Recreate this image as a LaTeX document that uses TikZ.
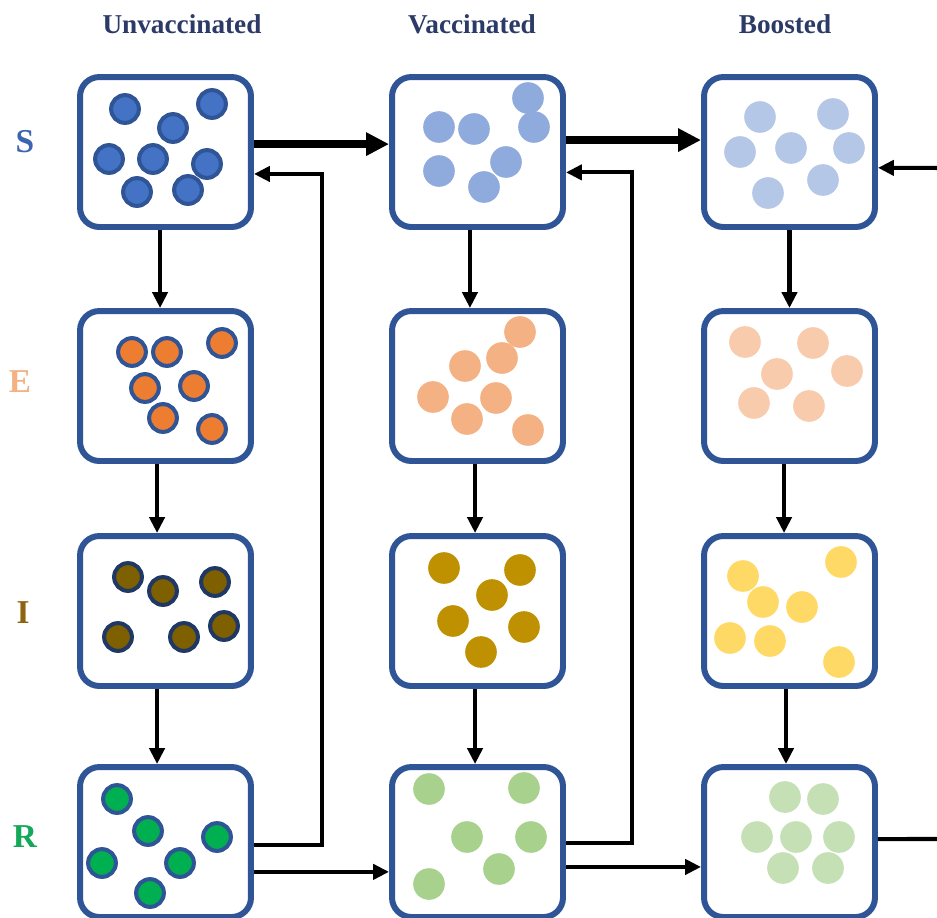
\documentclass[tikz,border=0pt]{standalone}
\usepackage{fontspec}
\setmainfont{Liberation Serif}
\usepackage{xcolor}
\usetikzlibrary{arrows.meta}

\definecolor{boxblue}{HTML}{2F5597}
\definecolor{hdrblue}{HTML}{2B3A67}
\definecolor{darknavy}{HTML}{1F3864}
\definecolor{slab}{HTML}{3C64B1}
\definecolor{elab}{HTML}{F4B183}
\definecolor{ilab}{HTML}{8E6410}
\definecolor{rlab}{HTML}{14A85A}
% dot colours: unvaccinated, vaccinated, boosted
\definecolor{su}{HTML}{4472C4}
\definecolor{sv}{HTML}{8FAADC}
\definecolor{sb}{HTML}{B4C7E7}
\definecolor{eu}{HTML}{ED7D31}
\definecolor{ev}{HTML}{F4B183}
\definecolor{eb}{HTML}{F8CBAD}
\definecolor{iu}{HTML}{7F6000}
\definecolor{iv}{HTML}{BF9000}
\definecolor{ib}{HTML}{FFD966}
\definecolor{ru}{HTML}{00B050}
\definecolor{rv}{HTML}{A9D18E}
\definecolor{rb}{HTML}{C5E0B4}

\begin{document}
\begin{tikzpicture}[x=0.02cm,y=-0.02cm,
    box/.style={draw=boxblue,fill=white,line width=3.4pt,rounded corners=11pt,minimum width=3.42cm,minimum height=3cm},
    rimdot/.style={line width=2.3pt},
    arr/.style={line width=2.3pt,-{Triangle[length=9pt,width=8.5pt]}},
    bigarr/.style={line width=4.5pt,-{Triangle[length=13pt,width=12.5pt]}},
    head/.style={font=\bfseries\fontsize{15.5}{18}\selectfont,text=hdrblue,anchor=base},
    comp/.style={font=\bfseries\fontsize{19}{22}\selectfont,anchor=base}]
    \useasboundingbox (0,0) rectangle (937,917);
    \clip (0,0) rectangle (937,917);
    % headers
    \node[head] (hu) at (182,33) {Unvaccinated};
    \node[head] (hv) at (472,33) {Vaccinated};
    \node[head] (hb) at (785,33) {Boosted};
    % compartments
    \node[comp,text=slab] (ls) at (25,152) {S};
    \node[comp,text=elab] (le) at (20,392) {E};
    \node[comp,text=ilab] (li) at (23,623) {I};
    \node[comp,text=rlab] (lr) at (25,847) {R};
    % boxes
    \node[box] (Su) at (165.5,152) {};
    \node[box] (Eu) at (165.5,386) {};
    \node[box] (Iu) at (165.5,611) {};
    \node[box] (Ru) at (165.5,842) {};
    \node[box] (Sv) at (477.5,152) {};
    \node[box] (Ev) at (477.5,386) {};
    \node[box] (Iv) at (477.5,611) {};
    \node[box] (Rv) at (477.5,842) {};
    \node[box] (Sb) at (789.5,152) {};
    \node[box] (Eb) at (789.5,386) {};
    \node[box] (Ib) at (789.5,611) {};
    \node[box] (Rb) at (789.5,842) {};
    % people
    \foreach \x/\y in {125/109,212/104,173/128,109/159,153/159,207/164,137/192,188/190}
        \filldraw[rimdot,draw=boxblue,fill=su] (\x,\y) circle (7.9pt);
    \foreach \x/\y in {439/127,474/129,528/98,534/127,439/171,506/162,484/187}
        \fill[sv] (\x,\y) circle (9pt);
    \foreach \x/\y in {760/117,833/114,740/152,791/148,849/148,768/193,823/180}
        \fill[sb] (\x,\y) circle (9pt);
    \foreach \x/\y in {132/352,167/352,222/343,145/388,194/386,163/418,212/429}
        \filldraw[rimdot,draw=boxblue,fill=eu] (\x,\y) circle (7.9pt);
    \foreach \x/\y in {520/332,502/358,465/366,433/397,496/398,467/419,528/430}
        \fill[ev] (\x,\y) circle (9pt);
    \foreach \x/\y in {745/342,813/343,777/374,847/371,754/403,809/406}
        \fill[eb] (\x,\y) circle (9pt);
    \foreach \x/\y in {128/577,163/591,215/582,118/637,184/637,224/626}
        \filldraw[rimdot,draw=darknavy,fill=iu] (\x,\y) circle (7.9pt);
    \foreach \x/\y in {444/568,520/570,492/595,453/621,524/627,481/652}
        \fill[iv] (\x,\y) circle (9pt);
    \foreach \x/\y in {841/562,743/576,763/602,802/607,730/638,770/641,839/662}
        \fill[ib] (\x,\y) circle (9pt);
    \foreach \x/\y in {117/799,148/831,217/837,102/863,180/863,150/893}
        \filldraw[rimdot,draw=boxblue,fill=ru] (\x,\y) circle (7.9pt);
    \foreach \x/\y in {429/789,524/788,467/837,531/837,499/869,429/884}
        \fill[rv] (\x,\y) circle (9pt);
    \foreach \x/\y in {785/797,823/799,757/837,796/837,839/837,783/868,828/868}
        \fill[rb] (\x,\y) circle (9pt);
    % vaccination
    \draw[bigarr] ([yshift=4.5pt]Su.east) -- ([yshift=4.5pt]Sv.west);
    \draw[bigarr] ([yshift=6.8pt]Sv.east) -- ([yshift=6.8pt]Sb.west);
    % disease progression
    \draw[arr] ([xshift=-3.1pt]Su.south) -- ([xshift=-3.1pt]Eu.north);
    \draw[arr] ([xshift=-4.8pt]Eu.south) -- ([xshift=-4.8pt]Iu.north);
    \draw[arr] ([xshift=-4.8pt]Iu.south) -- ([xshift=-4.8pt]Ru.north);
    \draw[arr] ([xshift=-4.3pt]Sv.south) -- ([xshift=-4.3pt]Ev.north);
    \draw[arr] ([xshift=-1.4pt]Ev.south) -- ([xshift=-1.4pt]Iv.north);
    \draw[arr] ([xshift=-1.4pt]Iv.south) -- ([xshift=-1.4pt]Rv.north);
    \draw[arr] (Sb.south) -- (Eb.north);
    \draw[arr] ([xshift=-3.1pt]Eb.south) -- ([xshift=-3.1pt]Ib.north);
    \draw[arr] ([xshift=-2pt]Ib.south) -- ([xshift=-2pt]Rb.north);
    % waning immunity
    \draw[arr] ([yshift=-1.7pt]Ru.east) -- ++(68,0) |- ([yshift=-12.5pt]Su.east);
    \draw[arr] ([yshift=-0.6pt]Rv.east) -- ++(66,0) |- ([yshift=-11.6pt]Sv.east);
    \coordinate (outR) at (945,839);
    \coordinate (inS) at (945,168);
    \draw[line width=2.3pt] ([yshift=1.7pt]Rb.east) -- (outR);
    \draw[arr] (inS) -- ([yshift=-9pt]Sb.east);
    % vaccination of recovered
    \draw[arr] ([yshift=-17pt]Ru.east) -- ([yshift=-17pt]Rv.west);
    \draw[arr] ([yshift=-14.2pt]Rv.east) -- ([yshift=-14.2pt]Rb.west);
\end{tikzpicture}
\end{document}
